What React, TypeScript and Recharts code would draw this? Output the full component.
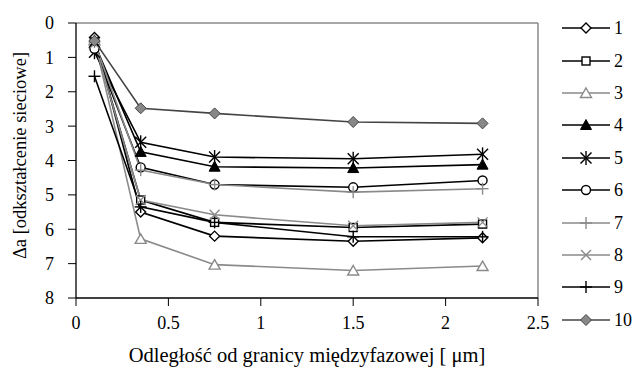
import React from "react";
import { LineChart, Line, XAxis, YAxis, Legend, ReferenceLine, Label } from "recharts";

// distance from the phase boundary (µm)
const DIST = [0.1, 0.35, 0.75, 1.5, 2.2];

const S1 = [0.42, 5.5, 6.2, 6.35, 6.25];
const S2 = [0.55, 5.15, 5.8, 5.95, 5.85];
const S3 = [0.5, 6.28, 7.03, 7.2, 7.07];
const S4 = [0.6, 3.75, 4.18, 4.22, 4.12];
const S5 = [0.85, 3.47, 3.9, 3.95, 3.82];
const S6 = [0.75, 4.2, 4.7, 4.78, 4.58];
const S7 = [0.55, 4.28, 4.7, 4.92, 4.82];
const S8 = [0.6, 5.15, 5.58, 5.9, 5.8];
const S9 = [1.55, 5.35, 5.8, 6.22, 6.22];
const S10 = [0.52, 2.48, 2.63, 2.88, 2.92];

const X_TICKS = [0, 0.5, 1, 1.5, 2, 2.5];
const Y_TICKS = [0, 1, 2, 3, 4, 5, 6, 7, 8];

const FONT = '"Liberation Serif", "Times New Roman", serif';
const BLACK = "#000000";
const GRAY = "#8a8a8a";
const DARK = "#444444";

type Shape = "diamond" | "square" | "triangle" | "triFill" | "asterisk" | "circle" | "plus" | "cross" | "diamondFill";

interface SeriesDef {
  key: string;
  label: string;
  values: number[];
  color: string;
  shape: Shape;
}

const SERIES: SeriesDef[] = [
  { key: "s1", label: "1", values: S1, color: BLACK, shape: "diamond" },
  { key: "s2", label: "2", values: S2, color: BLACK, shape: "square" },
  { key: "s3", label: "3", values: S3, color: GRAY, shape: "triangle" },
  { key: "s4", label: "4", values: S4, color: BLACK, shape: "triFill" },
  { key: "s5", label: "5", values: S5, color: BLACK, shape: "asterisk" },
  { key: "s6", label: "6", values: S6, color: BLACK, shape: "circle" },
  { key: "s7", label: "7", values: S7, color: GRAY, shape: "plus" },
  { key: "s8", label: "8", values: S8, color: GRAY, shape: "cross" },
  { key: "s9", label: "9", values: S9, color: BLACK, shape: "plus" },
  { key: "s10", label: "10", values: S10, color: DARK, shape: "diamondFill" },
];

const rows = DIST.map((x, i) => {
  const r: Record<string, number> = { x };
  SERIES.forEach((s) => {
    r[s.key] = s.values[i];
  });
  return r;
});

function Marker({ cx, cy, shape, color }: { cx: number; cy: number; shape: Shape; color: string }) {
  const sw = 1.4;
  switch (shape) {
    case "diamond":
      return <polygon points={`${cx},${cy - 5} ${cx + 5},${cy} ${cx},${cy + 5} ${cx - 5},${cy}`} fill="#fff" stroke={color} strokeWidth={sw} />;
    case "diamondFill":
      return <polygon points={`${cx},${cy - 5.5} ${cx + 5.5},${cy} ${cx},${cy + 5.5} ${cx - 5.5},${cy}`} fill="#888888" stroke={DARK} strokeWidth={1} />;
    case "square":
      return <rect x={cx - 4} y={cy - 4} width={8} height={8} fill="#fff" stroke={color} strokeWidth={sw} />;
    case "triangle":
      return <polygon points={`${cx},${cy - 5} ${cx + 5.5},${cy + 4.5} ${cx - 5.5},${cy + 4.5}`} fill="#fff" stroke={color} strokeWidth={sw} />;
    case "triFill":
      return <polygon points={`${cx},${cy - 5.5} ${cx + 5.5},${cy + 4.5} ${cx - 5.5},${cy + 4.5}`} fill={color} stroke={color} strokeWidth={1} />;
    case "circle":
      return <circle cx={cx} cy={cy} r={4.5} fill="#fff" stroke={color} strokeWidth={sw} />;
    case "plus":
      return (
        <g stroke={color} strokeWidth={sw}>
          <line x1={cx - 6} y1={cy} x2={cx + 6} y2={cy} />
          <line x1={cx} y1={cy - 6} x2={cx} y2={cy + 6} />
        </g>
      );
    case "cross":
      return (
        <g stroke={color} strokeWidth={sw}>
          <line x1={cx - 5} y1={cy - 5} x2={cx + 5} y2={cy + 5} />
          <line x1={cx - 5} y1={cy + 5} x2={cx + 5} y2={cy - 5} />
        </g>
      );
    case "asterisk":
      return (
        <g stroke={color} strokeWidth={sw}>
          <line x1={cx - 5.5} y1={cy - 5.5} x2={cx + 5.5} y2={cy + 5.5} />
          <line x1={cx - 5.5} y1={cy + 5.5} x2={cx + 5.5} y2={cy - 5.5} />
          <line x1={cx} y1={cy - 7} x2={cx} y2={cy + 7} />
        </g>
      );
  }
  return null;
}

function LegendBox() {
  return (
    <div style={{ fontFamily: FONT, fontSize: 18, color: "#000" }}>
      {SERIES.map((s) => (
        <div key={s.key} style={{ display: "flex", alignItems: "center", height: 32.4 }}>
          <svg width={50} height={16} style={{ display: "block" }}>
            <line x1={1} y1={8} x2={49} y2={8} stroke={s.color} strokeWidth={1.5} />
            <Marker cx={25} cy={8} shape={s.shape} color={s.color} />
          </svg>
          <span style={{ marginLeft: 3, lineHeight: "16px" }}>{s.label}</span>
        </div>
      ))}
    </div>
  );
}

export default function App() {
  return (
    <div style={{ position: "absolute", left: 0, top: 0, width: 637, height: 370, background: "#fff", fontFamily: FONT }}>
      <LineChart width={637} height={370} data={rows} margin={{ top: 23, right: 99, bottom: 0, left: 0 }}>
        <XAxis
          dataKey="x"
          type="number"
          domain={[0, 2.5]}
          ticks={X_TICKS}
          tickSize={8}
          tickMargin={10}
          height={72}
          axisLine={{ stroke: BLACK, strokeWidth: 1.3 }}
          tickLine={{ stroke: BLACK }}
          tick={{ fill: BLACK, fontSize: 18, fontFamily: FONT }}
        >
          <Label
            value="Odległość od granicy międzyfazowej [ μm]"
            position="insideBottom"
            offset={8}
            style={{ fill: BLACK, fontSize: 20.5, fontFamily: FONT }}
          />
        </XAxis>
        <YAxis
          type="number"
          reversed
          domain={[0, 8]}
          ticks={Y_TICKS}
          width={76}
          tickSize={8}
          tickMargin={14}
          axisLine={{ stroke: BLACK, strokeWidth: 1.3 }}
          tickLine={{ stroke: BLACK }}
          tick={{ fill: BLACK, fontSize: 18, fontFamily: FONT }}
        >
          <Label
            value="Δa  [odkształcenie sieciowe]"
            angle={-90}
            position="insideLeft"
            offset={19}
            dy={-5}
            style={{ fill: BLACK, fontSize: 18.5, fontFamily: FONT, textAnchor: "middle" }}
          />
        </YAxis>
        <ReferenceLine y={0} stroke={GRAY} strokeWidth={1.5} />
        <ReferenceLine x={2.5} stroke={GRAY} strokeWidth={1.5} />
        <Legend
          layout="horizontal"
          align="center"
          verticalAlign="middle"
          content={() => <LegendBox />}
          wrapperStyle={{ position: "absolute", left: 561, top: 12, width: 76 }}
        />
        {SERIES.map((s) => (
          <Line
            key={s.key}
            dataKey={s.key}
            stroke={s.color}
            strokeWidth={1.6}
            isAnimationActive={false}
            dot={(p: any) => <Marker key={`${s.key}-${p.index}`} cx={p.cx} cy={p.cy} shape={s.shape} color={s.color} />}
            activeDot={false}
          />
        ))}
      </LineChart>
    </div>
  );
}
